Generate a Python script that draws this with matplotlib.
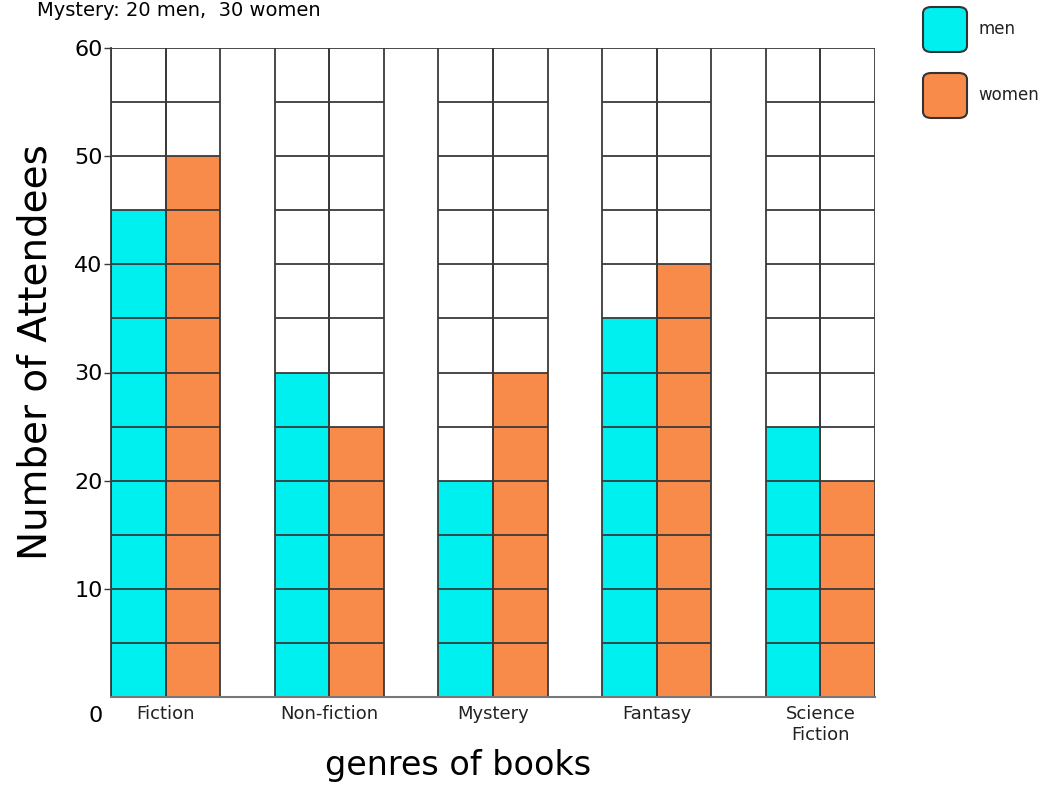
import matplotlib
matplotlib.use("Agg")
import matplotlib.pyplot as plt
from matplotlib.patches import FancyBboxPatch

genres = ["Fiction", "Non-fiction", "Mystery", "Fantasy", "Science\nFiction"]
men = [45, 30, 20, 35, 25]
women = [50, 25, 30, 40, 20]
yticks = [10, 20, 30, 40, 50, 60]
series_names = ["men", "women"]

men_color = "#00F0F0"
women_color = "#F98B4A"
line_color = "#3a3a3a"

fig = plt.figure(figsize=(10.52, 7.88), dpi=100)
ax = fig.add_axes([111/1052, 91/788, 764/1052, 649/788])

n = len(genres)
ncols = 3 * n - 1
ymax = 60
step = 5

men_x = [3 * i for i in range(n)]
women_x = [3 * i + 1 for i in range(n)]

ax.bar(men_x, men, width=1, align="edge", color=men_color, edgecolor="none", zorder=1)
ax.bar(women_x, women, width=1, align="edge", color=women_color, edgecolor="none", zorder=1)

# grid within bar columns only
levels = list(range(step, ymax, step))
for x0 in men_x + women_x:
    ax.hlines(levels, x0, x0 + 1, colors=line_color, lw=1.3, zorder=2)
    ax.vlines([x0, x0 + 1], 0, ymax, colors=line_color, lw=1.3, zorder=2)
ax.hlines([ymax], 0, ncols, colors=line_color, lw=1.3, zorder=2)

ax.set_xlim(0, ncols)
ax.set_ylim(0, ymax)
for s in ["top", "right"]:
    ax.spines[s].set_visible(False)
ax.spines["bottom"].set_color("#777777")
ax.spines["bottom"].set_linewidth(1.5)
ax.spines["left"].set_color(line_color)
ax.spines["left"].set_linewidth(1.3)

ax.set_yticks(yticks)
ax.set_yticklabels([str(v) for v in yticks], fontsize=16)
ax.tick_params(axis="y", length=5, width=1, color=line_color, pad=1)
ax.set_xticks([3 * i + 1 for i in range(n)])
ax.set_xticklabels(genres, fontsize=13, color="#222222", va="top", linespacing=1.2)
ax.tick_params(axis="x", length=0, pad=6)

ax.text(-0.15, -0.8, "0", fontsize=16, ha="right", va="top", transform=ax.transData)

fig.text(36/1052, (788 - 352)/788, "Number of Attendees", fontsize=28,
         rotation=90, ha="center", va="center")

fig.text(458/1052, (788 - 766)/788, "genres of books", fontsize=24, ha="center", va="center")

fig.text(37/1052, (788 - 16)/788, "Mystery: 20 men,  30 women", fontsize=14, va="baseline", ha="left")

# legend with rounded squares
for k, (name, col) in enumerate(zip(series_names, [men_color, women_color])):
    y_top = 7 + k * 66
    box = FancyBboxPatch((923/1052, (788 - y_top - 45)/788), 44/1052, 45/788,
                         boxstyle="round,pad=0,rounding_size=0.008",
                         transform=fig.transFigure, facecolor=col,
                         edgecolor="#333333", lw=1.5)
    fig.add_artist(box)
    fig.text(978/1052, (788 - y_top - 22)/788, name, fontsize=12, va="center", ha="left", color="#222222")

fig.savefig("out.png", dpi=100)
